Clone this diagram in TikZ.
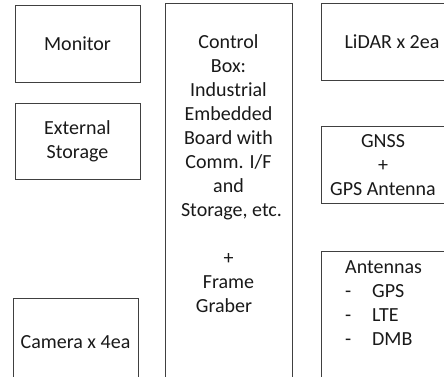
\documentclass[tikz,border=0pt]{standalone}
\usepackage{fontspec}
\setmainfont{Carlito}
\begin{document}
\begin{tikzpicture}[x=1pt,y=-1pt,
  box/.style={draw=black!75, line width=0.9pt, inner sep=0pt, outer sep=0pt},
  lbl/.style={font=\fontsize{20}{24}\selectfont, align=center, inner sep=0pt, text=black!90},
  lblleft/.style={font=\fontsize{20}{24}\selectfont, align=left, inner sep=0pt, text=black!90}]
\useasboundingbox (0,0) rectangle (444,376);
\clip (0,0) rectangle (444,376);
% left column
\node[box, lbl, minimum width=125pt, minimum height=77pt] (monitor) at (77.5,43.5) {Monitor};
\node[box, lbl, minimum width=125pt, minimum height=76pt] (storage) at (77.5,141) {External\\Storage};
\node[box, lbl, minimum width=125pt, minimum height=88pt] (camera) at (75.5,342) {Camera x 4ea};
% control box
\node[box, minimum width=127pt, minimum height=392pt] (ctrl) at (228.5,199) {};
\node[lbl, anchor=base] (ctrltext) at (228.5,312) {Control\\Box:\\Industrial\\Embedded\\Board with\\Comm. I/F\\and\\\hspace*{6pt}Storage, etc.\\[24pt]+\\Frame\hspace*{32pt}\\Graber\hspace*{9pt}};
% right column
\node[box, minimum width=150pt, minimum height=77pt] (lidar) at (396,41.5) {};
\node[lbl] (lidartext) at (392,41.5) {LiDAR x 2ea};
\node[box, minimum width=150pt, minimum height=77pt] (gnss) at (396,164.5) {};
\node[lbl, anchor=base] (gnsstext) at (383,195) {GNSS\\+\\GPS Antenna};
\node[box, minimum width=150pt, minimum height=140pt] (ant) at (396,321) {};
\node[lblleft, anchor=base west] (anttext) at (345,345) {Antennas\\\makebox[27pt][l]{-}GPS\\\makebox[27pt][l]{-}LTE\\\makebox[27pt][l]{-}DMB};
\end{tikzpicture}
\end{document}
